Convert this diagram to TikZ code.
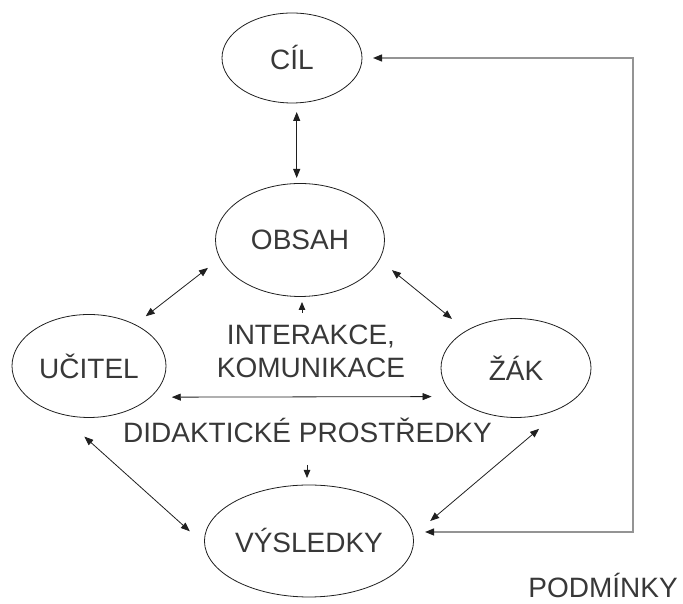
\documentclass[tikz,border=0pt]{standalone}
\usepackage{fontspec}
\setmainfont{Liberation Sans}
\usetikzlibrary{arrows.meta,calc,positioning,shapes.geometric}
\definecolor{tmavysedy}{rgb}{0.22,0.22,0.22}
\definecolor{cara}{rgb}{0.12,0.12,0.12}
\definecolor{ramecsedy}{rgb}{0.58,0.58,0.58}
\tikzset{
  pojem/.style={
    ellipse,
    draw=cara,
    line width=0.8pt,
    inner sep=0pt,
    outer sep=0pt,
    text=tmavysedy,
    font=\fontsize{28}{33}\selectfont
  },
  popis/.style={
    text=tmavysedy,
    inner sep=0pt,
    align=center,
    font=\fontsize{28}{33}\selectfont
  },
  sipka/.style={
    {Triangle[length=9pt,width=7pt]}-{Triangle[length=9pt,width=7pt]},
    line width=0.8pt,
    cara
  },
  sipkajedna/.style={
    -{Triangle[length=8pt,width=6.5pt]},
    line width=0.8pt,
    cara
  },
  ramec/.style={
    {Triangle[length=9pt,width=7pt,color=cara]}-{Triangle[length=9pt,width=7pt,color=cara]},
    line width=1.3pt,
    ramecsedy
  }
}

\begin{document}
\begin{tikzpicture}[x=1pt,y=1pt]
\useasboundingbox (0,0) rectangle (683,604);
\node[pojem,minimum width=140pt,minimum height=90pt] (cil) at (292,546) {CÍL};
\node[pojem,minimum width=169pt,minimum height=113pt] (obsah) at (300,364) {OBSAH};
\node[pojem,minimum width=154pt,minimum height=103pt] (ucitel) at (89,238) {UČITEL};
\node[pojem,minimum width=150pt,minimum height=99pt] (zak) at (516,236) {ŽÁK};
\node[pojem,minimum width=205pt,minimum height=112pt] (vysledky) at (309,63) {VÝSLEDKY};
\node[popis,anchor=north] (interakce) at (311,279) {INTERAKCE,\\KOMUNIKACE};
\node[popis,anchor=base] (prostredky) at (307.5,161) {DIDAKTICKÉ PROSTŘEDKY};
\node[popis,anchor=base] (podminky) at (603,6) {PODMÍNKY};
\coordinate (ohyb) at (633,72);
% vazby mezi pojmy
\draw[sipka,shorten <=9pt,shorten >=5.5pt] ($(cil.south)+(4.7,0)$) -- ($(obsah.north)+(-3.3,0)$);
\draw[sipka,shorten <=15.4pt,shorten >=13.7pt] (obsah.193.1) -- (ucitel.42.8);
\draw[sipka,shorten <=16.5pt,shorten >=18.8pt] (obsah.346.1) -- (zak.143.1);
\draw[sipka,shorten <=21.5pt,shorten >=23.2pt] (ucitel.333.3) -- (zak.205.5);
\draw[sipka,shorten <=35pt,shorten >=20pt] (ucitel.237.7) -- (vysledky.182.4);
\draw[sipka,shorten <=43.7pt,shorten >=22.5pt] (zak.330) -- (vysledky.3.6);
\draw[sipkajedna,shorten >=5.5pt] ($(obsah.south)+(2,-16.5)$) -- ($(obsah.south)+(2,0)$);
\draw[sipkajedna,shorten >=7pt] ($(vysledky.north)+(-2,20)$) -- ($(vysledky.north)+(-2,0)$);
% podminky
\draw[ramec,shorten <=11pt,shorten >=11.5pt] (cil.east) -| (ohyb) -- (ohyb -| vysledky.east);
\end{tikzpicture}
\end{document}
